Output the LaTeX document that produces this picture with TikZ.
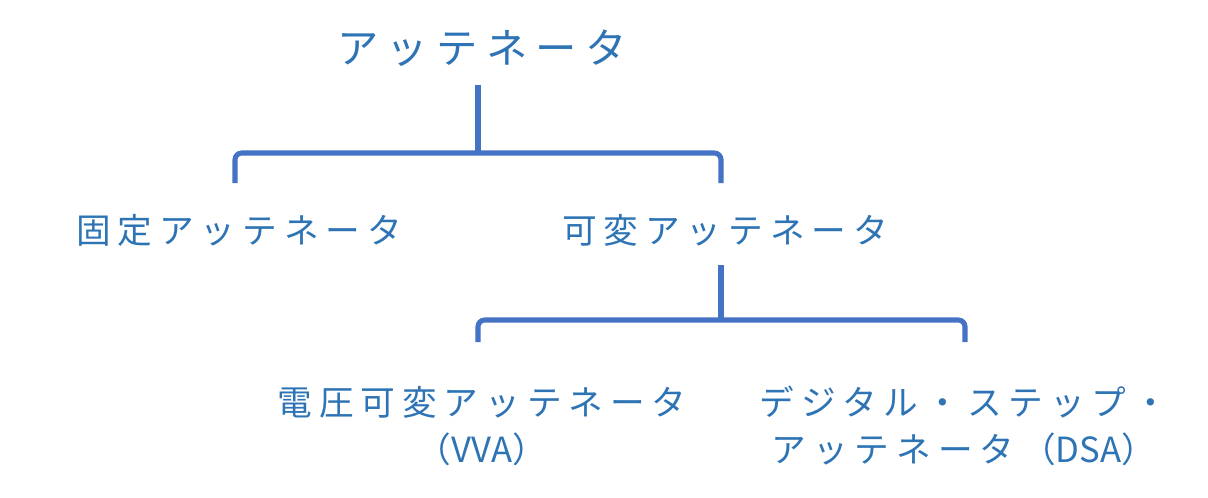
\documentclass[tikz,border=0pt]{standalone}
\usepackage{fontspec}
\newfontfamily\jpfont[LetterSpace=20]{Noto Sans CJK JP}
\newfontfamily\latfont{Noto Sans CJK JP}
\definecolor{linea}{HTML}{4472C4}
\definecolor{texto}{HTML}{2E74B5}
\tikzset{
    titulo/.style={text=texto, inner sep=0pt, font=\jpfont\fontsize{31}{36}\selectfont},
    rama/.style={text=texto, inner sep=0pt, align=center, font=\jpfont\fontsize{26}{35}\selectfont},
    conector/.style={linea, line width=3.8pt, rounded corners=5pt}
}
\begin{document}
\begin{tikzpicture}[x=0.75pt, y=-0.75pt]
    \useasboundingbox (0,0) rectangle (1208,497);
    % Nivel 1
    \node[titulo] (raiz) at (482,48) {アッテネータ};
    % Nivel 2
    \node[rama] (fijo) at (239,230) {固定アッテネータ};
    \node[rama] (variable) at (725,230) {可変アッテネータ};
    % Nivel 3
    \node[rama] (vva) at (482,426) {電圧可変アッテネータ\\（{\latfont VVA}）};
    \node[rama] (dsa) at (964,426) {デジタル・ステップ・\\アッテネータ（{\latfont DSA}）};
    % Conectores
    \coordinate (r1) at (478,85);
    \coordinate (f1) at (235,183);
    \coordinate (v1) at (721,183);
    \coordinate (v2) at (721,265);
    \coordinate (a1) at (478,342);
    \coordinate (d1) at (965,342);
    \draw[conector] (r1) -- (r1 |- 0,153);
    \draw[conector] (f1) -- (f1 |- 0,153) -- (v1 |- 0,153) -- (v1);
    \draw[conector] (v2) -- (v2 |- 0,320);
    \draw[conector] (a1) -- (a1 |- 0,320) -- (d1 |- 0,320) -- (d1);
\end{tikzpicture}
\end{document}
